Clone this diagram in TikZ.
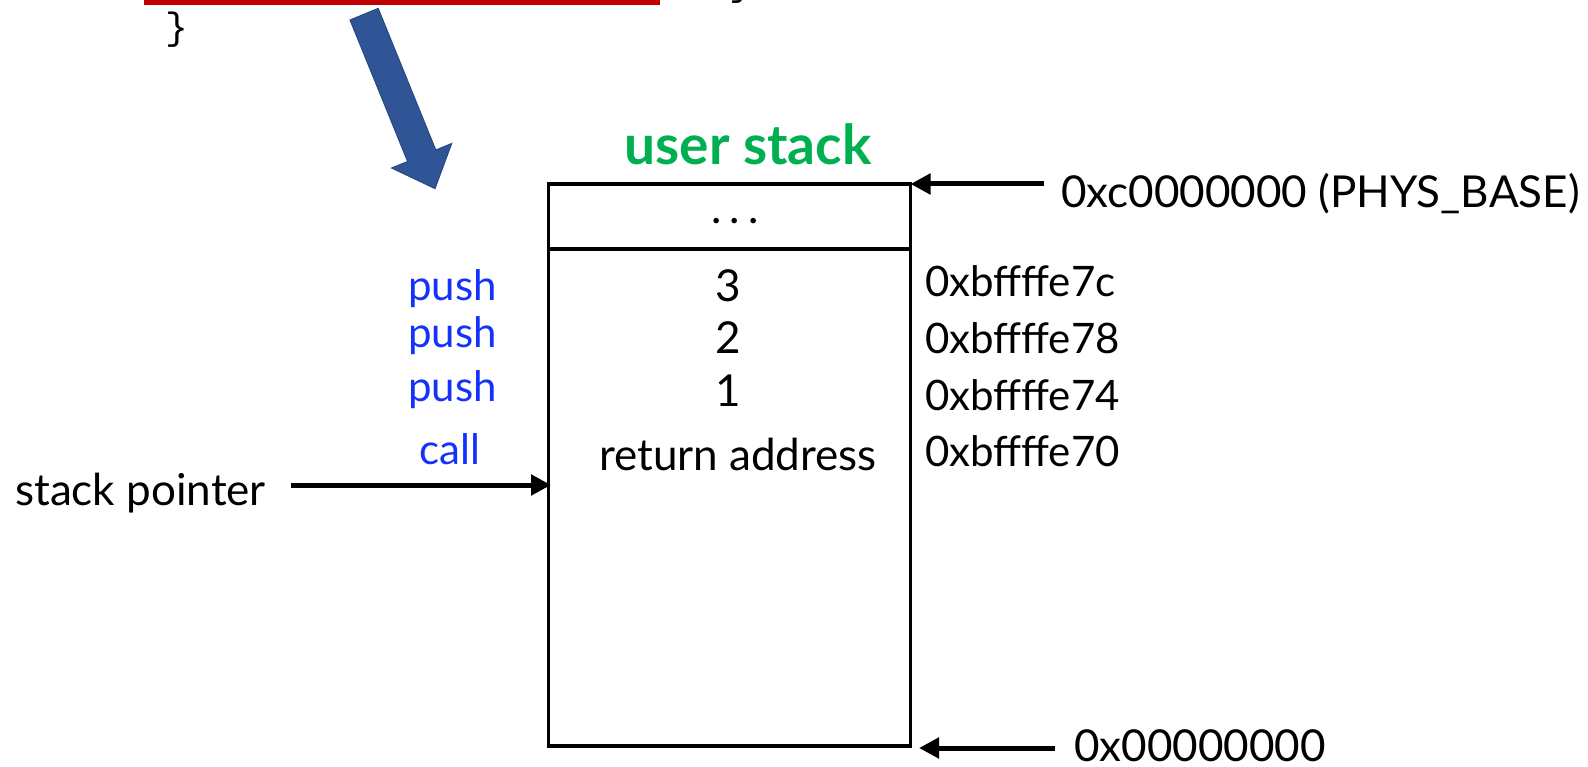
\documentclass[tikz,border=0pt]{standalone}
\usepackage{fontspec}
\setmainfont{Lato}
\newfontfamily\codefont{Liberation Mono}
\usetikzlibrary{arrows.meta,calc}
\definecolor{ustack}{RGB}{0,176,80}
\definecolor{opblue}{RGB}{20,50,250}
\definecolor{barrow}{RGB}{47,85,151}
\definecolor{barrowedge}{RGB}{40,72,130}
\definecolor{redbar}{RGB}{192,0,0}
\begin{document}
\begin{tikzpicture}[x=1pt,y=-1pt,
  lbl/.style={font=\fontsize{44}{50}\selectfont, inner sep=0pt, anchor=base},
  op/.style={lbl, font=\fontsize{42}{48}\selectfont, text=opblue},
  addr/.style={lbl, font=\fontsize{42}{48}\selectfont, anchor=base west},
  code/.style={font=\codefont\fontsize{38}{44}\selectfont, inner sep=0pt},
  ptr/.style={line width=5pt, -{Triangle[length=20pt,width=20pt]}},
  stackbox/.style={draw, line width=3.2pt, minimum width=362pt, minimum height=562pt, inner sep=0pt, outer sep=0pt}]
\useasboundingbox (0,0) rectangle (1588,767);
\begin{scope}
\clip (0,0) rectangle (1588,767);
% top fragment of the code box
\fill[redbar] (144,-2) rectangle (660,5);
\node[code] (brace) at (177,30) {\}};
\node[code] (frag) at (741,-14) {\}};
% blue block arrow
\begin{scope}[xshift=-3pt]
\coordinate (t1) at (353,20);
\coordinate (t2) at (381.2,8.4);
\coordinate (s1) at (438.8,150);
\coordinate (h1) at (454.7,143.5);
\coordinate (tip) at (438,188.6);
\coordinate (h2) at (394.6,168);
\coordinate (s2) at (410.6,161.5);
\filldraw[fill=barrow, draw=barrowedge, line width=1pt, line join=miter]
  (t1) -- (t2) -- (s1) -- (h1) -- (tip) -- (h2) -- (s2) -- cycle;
\end{scope}
\end{scope}
% stack
\node[stackbox] (stack) at (729.5,465) {};
\coordinate (divl) at (548.5,249);
\coordinate (divr) at (910.5,249);
\draw[line width=3.2pt] (divl) -- (divr);
\node[lbl, font=\bfseries\fontsize{55}{60}\selectfont, text=ustack] (title) at (748,165) {user stack};
\node[lbl] (dots) at (735,224) {.\hspace{8pt}.\hspace{8pt}.};
\node[lbl] (v3) at (728,302) {3};
\node[lbl] (v2) at (728,353) {2};
\node[lbl] (v1) at (728,406) {1};
\node[lbl] (ret) at (738,470) {return address};
% operations
\node[op, anchor=base east] (op1) at (497,301) {push};
\node[op, anchor=base east] (op2) at (497,348) {push};
\node[op, anchor=base east] (op3) at (497,401) {push};
\node[op] (op4) at (450,464) {call};
% addresses
\node[addr] (a7c) at (925,297) {0xbffffe7c};
\node[addr] (a78) at (925,354) {0xbffffe78};
\node[addr] (a74) at (925,410) {0xbffffe74};
\node[addr] (a70) at (925,466) {0xbffffe70};
\node[addr, font=\fontsize{44}{50}\selectfont] (phys) at (1061,208) {0xc0000000 (PHYS\_BASE)};
\node[addr, font=\fontsize{44}{50}\selectfont] (zero) at (1074,761) {0x00000000};
\node[lbl, anchor=base west] (sp) at (15,505) {stack pointer};
% pointer arrows
\coordinate (physT) at (1044,184);
\coordinate (zeroT) at (1055,748);
\coordinate (zeroH) at (919,748);
\coordinate (spT) at (291,485);
\coordinate (spH) at (551,485);
\draw[ptr] (physT) -- (stack.north east);
\draw[ptr] (zeroT) -- (zeroH);
\draw[ptr] (spT) -- (spH);
\end{tikzpicture}
\end{document}
